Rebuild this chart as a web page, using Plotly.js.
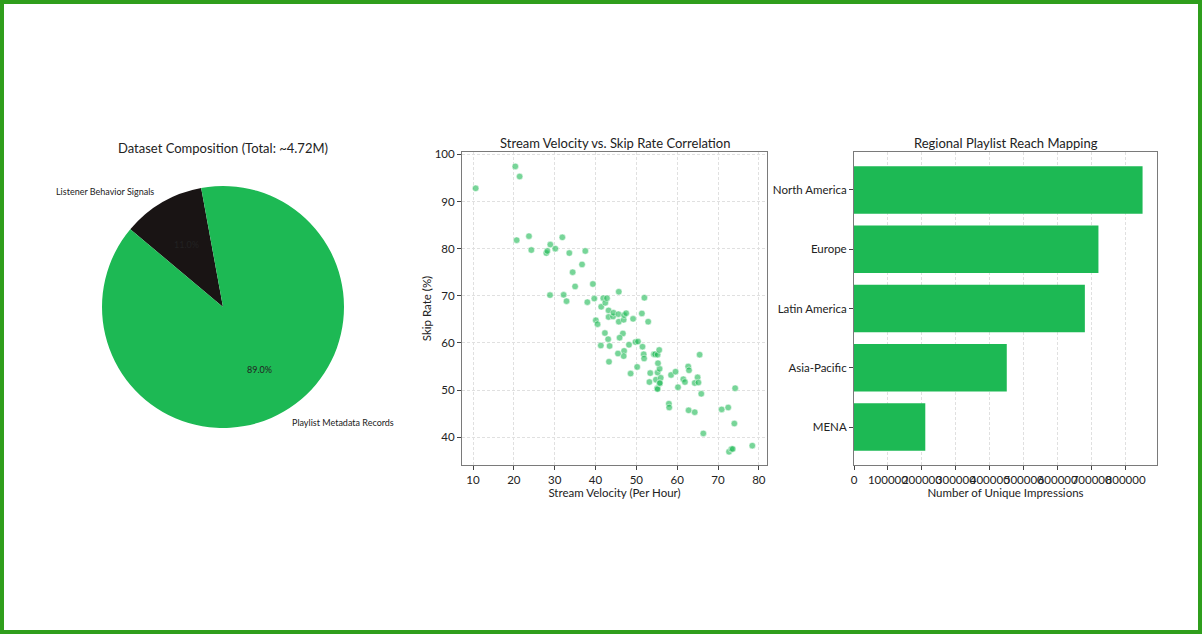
<!DOCTYPE html>
<html>
<head>
<meta charset="utf-8">
<script src="https://cdn.plot.ly/plotly-3.0.1.min.js"></script>
<style>
  html, body { margin: 0; padding: 0; background: #ffffff; }
  #chart { width: 1202px; height: 634px; }
</style>
</head>
<body>
<div id="chart"></div>
<script>
// ---- Dataset composition (share of records, %) ----
const pieLabels = ['Listener Behavior Signals', 'Playlist Metadata Records'];
const pieShares = [11.0, 89.0];
const pieColors = ['#191414', '#1DB954'];

// ---- Stream velocity (per hour) vs. skip rate (%) ----
const velocity = [
  10.65, 20.36, 21.42, 20.69, 23.7, 24.28, 27.95, 28.2, 28.93, 30.15,
  31.87, 33.58, 37.5, 36.7, 34.4, 35.0, 28.85, 32.19, 32.9, 38.0,
  39.35, 39.7, 41.4, 41.9, 42.4, 42.8, 45.7, 51.97, 40.08, 40.5,
  43.2, 43.2, 44.3, 44.4, 45.6, 45.7, 46.9, 47.0, 47.5, 49.2,
  51.35, 52.9, 42.3, 46.7, 43.1, 41.3, 43.45, 45.9, 48.2, 49.8,
  50.4, 51.5, 47.0, 46.9, 45.5, 43.3, 51.8, 51.9, 54.3, 54.6,
  55.2, 55.6, 48.6, 50.2, 53.4, 53.2, 54.8, 55.2, 55.7, 55.97,
  55.1, 55.2, 55.7, 55.76, 55.3, 57.97, 58.05, 58.5, 59.6, 60.2,
  61.5, 61.9, 62.7, 62.9, 62.8, 64.3, 64.3, 65.0, 65.2, 65.5,
  65.9, 66.4, 70.9, 72.5, 74.2, 74.0, 72.7, 73.3, 73.6, 78.4
];
const skipRate = [
  92.8, 97.45, 95.3, 81.8, 82.65, 79.7, 79.06, 79.5, 80.86, 80.0,
  82.4, 79.06, 79.5, 76.65, 75.0, 71.98, 70.14, 70.2, 68.86, 68.65,
  72.5, 69.4, 67.66, 69.5, 68.5, 69.5, 70.85, 69.57, 64.8, 63.98,
  66.9, 65.5, 65.6, 66.4, 66.1, 64.5, 64.9, 65.9, 66.3, 65.1,
  66.25, 64.5, 62.1, 62.0, 60.8, 59.45, 59.35, 61.1, 59.6, 60.2,
  60.3, 59.2, 58.3, 57.2, 57.75, 56.0, 57.6, 56.7, 57.6, 57.6,
  57.5, 58.5, 53.5, 54.9, 53.6, 51.7, 52.2, 53.7, 54.5, 52.6,
  50.4, 50.2, 51.4, 51.5, 55.7, 47.1, 46.3, 53.2, 53.9, 50.6,
  52.3, 51.7, 55.0, 54.2, 45.7, 45.3, 51.5, 52.7, 51.6, 57.5,
  49.2, 40.8, 45.9, 46.3, 50.4, 42.9, 36.9, 37.5, 37.5, 38.2
];
const velocityTicks = [10, 20, 30, 40, 50, 60, 70, 80];
const skipTicks = [40, 50, 60, 70, 80, 90, 100];

// ---- Regional reach (unique impressions) ----
const regions = ['North America', 'Europe', 'Latin America', 'Asia-Pacific', 'MENA'];
const impressions = [850000, 720000, 680000, 450000, 210000];
const impressionTicks = [0, 100000, 200000, 300000, 400000, 500000, 600000, 700000, 800000];

const GREEN = '#1DB954';
const FONT = 'Lato, "Open Sans", sans-serif';
const TEXT = '#222222';
const W = 1202, H = 634;
const px = v => v / W;
const py = v => 1 - v / H;

// pie placement (pixels): centre and radius
const PIE_CX = 223, PIE_CY = 307, PIE_R = 121;
const START_DEG = 140;   // edge where the green wedge starts, degrees counter-clockwise from 3 o'clock
const pieDomain = {
  x: [px(PIE_CX - PIE_R), px(PIE_CX + PIE_R)],
  y: [py(PIE_CY + PIE_R), py(PIE_CY - PIE_R)]
};

// Percent labels sit at 0.6 r, slice names at 1.1 r, on each wedge's mid-angle.
// Going counter-clockwise from START_DEG the metadata wedge comes first,
// followed by the behaviour-signal wedge.
function pieTextAnnotations() {
  const total = pieShares.reduce((a, b) => a + b, 0);
  const order = [1, 0];
  let a0 = START_DEG;
  const out = [];
  order.forEach(i => {
    const span = pieShares[i] / total * 360;
    const mid = (a0 + span / 2) * Math.PI / 180;
    a0 += span;
    const dx = Math.cos(mid), dy = -Math.sin(mid);
    out.push({
      text: (pieShares[i] / total * 100).toFixed(1) + '%',
      xref: 'paper', yref: 'paper',
      x: px(PIE_CX + 0.6 * PIE_R * dx), y: py(PIE_CY + 0.6 * PIE_R * dy),
      xanchor: 'center', yanchor: 'middle', showarrow: false,
      font: { family: FONT, size: 9, color: TEXT }
    });
    out.push({
      text: pieLabels[i],
      xref: 'paper', yref: 'paper',
      x: px(PIE_CX + 1.1 * PIE_R * dx), y: py(PIE_CY + 1.1 * PIE_R * dy),
      xanchor: dx < 0 ? 'right' : 'left', yanchor: 'middle', showarrow: false,
      font: { family: FONT, size: 9, color: TEXT }
    });
  });
  return out;
}

const traces = [
  {
    type: 'pie',
    labels: pieLabels,
    values: pieShares,
    sort: false,
    direction: 'counterclockwise',
    // plotly measures rotation clockwise from 12 o'clock; with counter-clockwise
    // ordering the first slice's trailing edge sits at that angle
    rotation: -(START_DEG - 90),
    domain: pieDomain,
    marker: { colors: pieColors, line: { width: 0 } },
    textinfo: 'none',
    showlegend: false,
    hoverinfo: 'label+percent'
  },
  {
    type: 'scatter',
    mode: 'markers',
    x: velocity,
    y: skipRate,
    xaxis: 'x',
    yaxis: 'y',
    marker: {
      size: 6.5,
      color: 'rgba(29,185,84,0.6)',
      line: { color: '#ffffff', width: 0.5 }
    },
    showlegend: false
  },
  {
    type: 'bar',
    orientation: 'h',
    x: impressions,
    y: regions,
    xaxis: 'x2',
    yaxis: 'y2',
    marker: { color: GREEN, line: { width: 0 } },
    showlegend: false
  }
];

const axisCommon = {
  showline: true,
  mirror: true,
  linecolor: '#7a7a7a',
  linewidth: 1,
  ticks: 'outside',
  ticklen: 4,
  tickwidth: 1,
  tickcolor: '#444444',
  zeroline: false,
  tickfont: { family: FONT, size: 11.5, color: TEXT }
};
const gridStyle = {
  showgrid: true,
  gridcolor: '#e0e0e0',
  griddash: '3px,2px',
  gridwidth: 0.8
};

const layout = {
  width: W,
  height: H,
  margin: { l: 0, r: 0, t: 0, b: 0 },
  paper_bgcolor: '#ffffff',
  plot_bgcolor: '#ffffff',
  font: { family: FONT, color: TEXT },
  showlegend: false,
  xaxis: Object.assign({}, axisCommon, gridStyle, {
    domain: [px(462), px(767)],
    anchor: 'y',
    range: [7.3, 82],
    tickmode: 'array',
    tickvals: velocityTicks,
    title: { text: 'Stream Velocity (Per Hour)', font: { family: FONT, size: 11.5 }, standoff: 3 }
  }),
  yaxis: Object.assign({}, axisCommon, gridStyle, {
    domain: [py(465), py(152)],
    anchor: 'x',
    range: [34.1, 100.5],
    tickmode: 'array',
    tickvals: skipTicks,
    title: { text: 'Skip Rate (%)', font: { family: FONT, size: 11.5 }, standoff: 0 }
  }),
  xaxis2: Object.assign({}, axisCommon, gridStyle, {
    domain: [px(854), px(1157)],
    anchor: 'y2',
    range: [0, 892500],
    tickmode: 'array',
    tickvals: impressionTicks,
    ticktext: impressionTicks.map(String),
    tickangle: 0,
    title: { text: 'Number of Unique Impressions', font: { family: FONT, size: 11.5 }, standoff: 3 }
  }),
  yaxis2: Object.assign({}, axisCommon, {
    domain: [py(465), py(152)],
    anchor: 'x2',
    type: 'category',
    categoryorder: 'array',
    categoryarray: regions,
    range: [4.64, -0.64],
    showgrid: false
  }),
  bargap: 0.2,
  annotations: [
    {
      text: 'Dataset Composition (Total: ~4.72M)',
      xref: 'paper', yref: 'paper',
      x: px(223), y: py(148),
      xanchor: 'center', yanchor: 'middle',
      showarrow: false,
      font: { family: FONT, size: 13, color: TEXT }
    },
    {
      text: 'Stream Velocity vs. Skip Rate Correlation',
      xref: 'paper', yref: 'paper',
      x: px(614.5), y: py(143),
      xanchor: 'center', yanchor: 'middle',
      showarrow: false,
      font: { family: FONT, size: 13, color: TEXT }
    },
    {
      text: 'Regional Playlist Reach Mapping',
      xref: 'paper', yref: 'paper',
      x: px(1005.5), y: py(143),
      xanchor: 'center', yanchor: 'middle',
      showarrow: false,
      font: { family: FONT, size: 13, color: TEXT }
    }
  ].concat(pieTextAnnotations()),
  shapes: [
    {
      type: 'rect', xref: 'paper', yref: 'paper',
      x0: px(2), x1: px(1200), y0: py(632), y1: py(2),
      line: { color: '#2f9e1c', width: 4 },
      fillcolor: 'rgba(0,0,0,0)',
      layer: 'above'
    }
  ]
};

Plotly.newPlot('chart', traces, layout, { displayModeBar: false, responsive: false });
</script>
</body>
</html>
